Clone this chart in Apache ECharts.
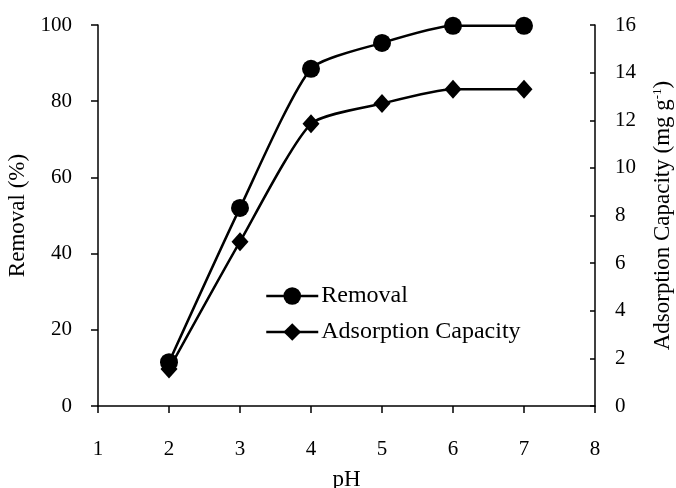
<!DOCTYPE html>
<html><head><meta charset="utf-8">
<script src="https://cdn.jsdelivr.net/npm/echarts@6/dist/echarts.min.js"></script>
<style>html,body{margin:0;padding:0;background:#fff}#c{width:676px;height:488px}</style>
</head><body><div id="c"></div>
<script>
const pH = [2, 3, 4, 5, 6, 7];
const removal = [11.5, 52, 88.5, 95.3, 99.8, 99.8];
const capacity = [1.55, 6.9, 11.85, 12.7, 13.3, 13.3];
const xTicks = [1, 2, 3, 4, 5, 6, 7, 8];

const font = 'Liberation Serif';
const chart = echarts.init(document.getElementById('c'));
const axisCommon = {
  axisLine: {show: true, lineStyle: {color: '#000', width: 1.5}},
  axisTick: {show: true, length: 7, lineStyle: {color: '#000', width: 1.5}},
  splitLine: {show: false},
  axisLabel: {color: '#000', fontFamily: font, fontSize: 21},
  nameTextStyle: {color: '#000', fontFamily: font, fontSize: 23}
};
chart.setOption({
  animation: false,
  backgroundColor: '#fff',
  grid: {left: 98, right: 81, top: 25, bottom: 82, containLabel: false, outerBoundsMode: 'none'},
  legend: {
    orient: 'vertical', left: 265, top: 284, itemGap: 12, padding: 0,
    itemWidth: 52, itemHeight: 22,
    lineStyle: {width: 2.5},
    textStyle: {color: '#000', fontFamily: font, fontSize: 24, padding: [0, 0, 0, -2]},
    data: ['Removal', 'Adsorption Capacity']
  },
  xAxis: Object.assign({}, axisCommon, {
    type: 'value', min: xTicks[0], max: xTicks[xTicks.length - 1], interval: 1,
    name: 'pH', nameLocation: 'middle', nameGap: 62,
    axisLabel: Object.assign({}, axisCommon.axisLabel, {margin: 33})
  }),
  yAxis: [
    Object.assign({}, axisCommon, {
      type: 'value', min: 0, max: 100, interval: 20, position: 'left',
      name: 'Removal (%)', nameLocation: 'middle', nameGap: 65, nameRotate: 90,
      axisTick: Object.assign({}, axisCommon.axisTick, {inside: false}),
      axisLabel: Object.assign({}, axisCommon.axisLabel, {margin: 26})
    }),
    Object.assign({}, axisCommon, {
      type: 'value', min: 0, max: 16, interval: 2, position: 'right',
      name: 'Adsorption Capacity (mg g{sup|-1})', nameLocation: 'middle', nameGap: 56, nameRotate: 90,
      nameTextStyle: {color: '#000', fontFamily: font, fontSize: 23, rich: {sup: {fontSize: 13, verticalAlign: 'top', padding: [0,0,10,0], fontFamily: font, color: '#000'}}},
      axisTick: Object.assign({}, axisCommon.axisTick, {inside: true, length: 5}),
      axisLabel: Object.assign({}, axisCommon.axisLabel, {margin: 20})
    })
  ],
  series: [
    {
      name: 'Removal', type: 'line', smooth: 0.2, yAxisIndex: 0,
      data: pH.map((x, i) => [x, removal[i]]),
      symbol: 'circle', symbolSize: 18,
      lineStyle: {color: '#000', width: 2.5},
      itemStyle: {color: '#000'}
    },
    {
      name: 'Adsorption Capacity', type: 'line', smooth: 0.2, yAxisIndex: 1,
      data: pH.map((x, i) => [x, capacity[i]]),
      symbol: 'diamond', symbolSize: [17, 19],
      lineStyle: {color: '#000', width: 2.5},
      itemStyle: {color: '#000'}
    }
  ]
});
</script></body></html>
